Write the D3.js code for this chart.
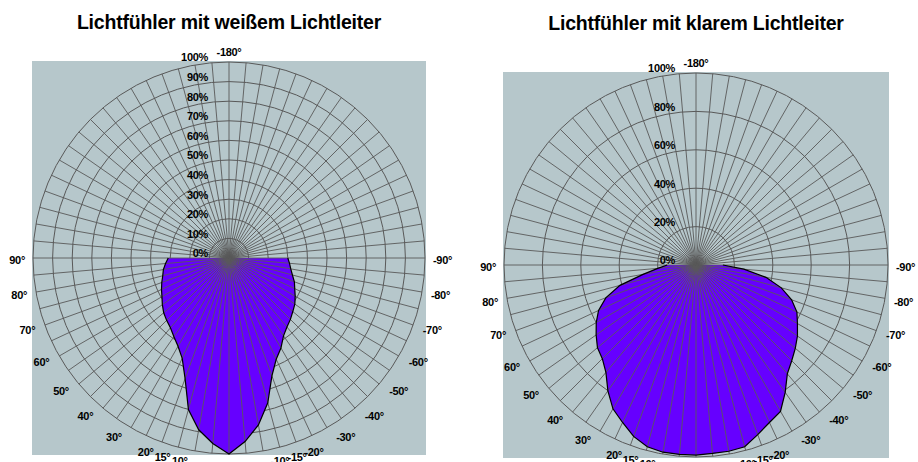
<!DOCTYPE html>
<html>
<head>
<meta charset="utf-8">
<script src="https://cdn.jsdelivr.net/npm/d3@7"></script>
<style>
  html, body { margin: 0; padding: 0; background: #ffffff; }
  svg { display: block; }
  text { font-family: "Liberation Sans", Arial, Helvetica, sans-serif; }
</style>
</head>
<body>
<svg id="chart" width="918" height="462"></svg>
<script>
// ---------- data ----------
const titles = ["Lichtfühler mit weißem Lichtleiter", "Lichtfühler mit klarem Lichtleiter"];
// measurement angles (deg), 0° = straight down, positive = left side
const angles = [90, 85, 80, 75, 70, 65, 60, 55, 50, 45, 40, 35, 30, 25, 20, 15, 10, 5, 0,
                -5, -10, -15, -20, -25, -30, -35, -40, -45, -50, -55, -60, -65, -70, -75, -80, -85, -90];
// relative intensity (%)
const whiteGuideValues = [31, 32.5, 34, 35, 36.5, 38, 39.5, 41.5, 43.5, 45, 46.5, 49, 52, 56.5, 65.5, 80, 89, 95, 100,
                          94, 86.5, 76.5, 64, 57, 53, 48.5, 46, 44.3, 42.5, 41, 39, 37, 35.5, 33.5, 32, 31, 30];
const clearGuideValues = [15, 20, 28, 41, 50, 56, 60, 63.5, 67, 69, 73, 80, 86.5, 90.5, 95, 98, 99, 99, 99,
                          98.5, 98.5, 98, 94, 90.5, 88, 81, 74, 70.5, 67.5, 64.5, 61, 58, 53, 46, 37, 25, 14];
const whiteRingTicks = [0, 10, 20, 30, 40, 50, 60, 70, 80, 90, 100];
const clearRingTicks = [0, 20, 40, 60, 80, 100];
const angleLabelTicks = [90, 80, 70, 60, 50, 40, 30, 20, 15, 10, -10, -15, -20, -30, -40, -50, -60, -70, -80, -90];
const spokeAngles = d3.range(-180, 180, 5);

// ---------- layout ----------
const panels = [
  { title: titles[0], values: whiteGuideValues, rings: whiteRingTicks, cx: 229, cy: 258, R: 196, titleY: 29 },
  { title: titles[1], values: clearGuideValues, rings: clearRingTicks, cx: 696, cy: 265, R: 192, titleY: 30 }
];

const svg = d3.select("#chart");
const toRad = d => (180 + d) * Math.PI / 180; // d3 radial angle from our convention
const gridColor = "#595959";

panels.forEach(p => {
  const r = d3.scaleLinear().domain([0, 100]).range([0, p.R]);
  const g = svg.append("g").attr("transform", `translate(${p.cx},${p.cy})`);

  // title
  svg.append("text")
    .attr("x", p.cx).attr("y", p.titleY)
    .attr("text-anchor", "middle")
    .attr("font-size", 19.5).attr("font-weight", "bold")
    .attr("letter-spacing", -0.2)
    .attr("fill", "#000")
    .text(p.title);

  // background square
  g.append("rect")
    .attr("x", -p.R - 1).attr("y", -p.R - 1)
    .attr("width", 2 * p.R + 2).attr("height", 2 * p.R + 2)
    .attr("fill", "#b6c7cb");

  // rings
  g.selectAll("circle.ring").data(p.rings.filter(v => v > 0)).join("circle")
    .attr("class", "ring")
    .attr("r", d => r(d))
    .attr("fill", "none")
    .attr("stroke", gridColor).attr("stroke-width", 1);

  // data area
  const pts = angles.map((a, i) => ({ angle: a, value: p.values[i] }));
  const area = d3.areaRadial()
    .angle(d => toRad(d.angle))
    .innerRadius(0)
    .outerRadius(d => r(d.value));
  g.append("path").datum(pts)
    .attr("d", area)
    .attr("fill", "#6600ff");

  // spokes
  g.selectAll("line.spoke").data(spokeAngles).join("line")
    .attr("class", "spoke")
    .attr("x1", 0).attr("y1", 0)
    .attr("x2", d => -r(100) * Math.sin(d * Math.PI / 180))
    .attr("y2", d => r(100) * Math.cos(d * Math.PI / 180))
    .attr("stroke", gridColor).attr("stroke-width", 0.9);

  // outline
  const line = d3.lineRadial()
    .angle(d => toRad(d.angle))
    .radius(d => r(d.value));
  g.append("path").datum(pts)
    .attr("d", line)
    .attr("fill", "none")
    .attr("stroke", "#000").attr("stroke-width", 1.2);

  // percent labels
  g.selectAll("text.pct").data(p.rings).join("text")
    .attr("class", "pct")
    .attr("x", -21)
    .attr("y", d => -r(d) - 4.5)
    .attr("dy", "0.35em")
    .attr("text-anchor", "end")
    .attr("font-size", 11).attr("font-weight", "bold")
    .attr("letter-spacing", -0.3)
    .text(d => d + "%");

  // angle labels
  g.selectAll("text.ang").data(angleLabelTicks).join("text")
    .attr("class", "ang")
    .attr("x", d => {
      const rad = d * Math.PI / 180;
      const base = -(p.R + 8) * Math.sin(rad);
      const shift = 6 * Math.cos(rad);
      return d > 0 ? base - shift : base + shift;
    })
    .attr("y", d => (p.R + 8) * Math.cos(d * Math.PI / 180) + 2)
    .attr("dy", "0.35em")
    .attr("text-anchor", d => d > 0 ? "end" : "start")
    .attr("font-size", 11).attr("font-weight", "bold")
    .attr("letter-spacing", -0.3)
    .text(d => d + "°");

  // top label
  g.append("text")
    .attr("x", 0).attr("y", -p.R - 10)
    .attr("dy", "0.35em")
    .attr("text-anchor", "middle")
    .attr("font-size", 11).attr("font-weight", "bold")
    .attr("letter-spacing", -0.3)
    .text("-180°");
});
</script>
</body>
</html>
